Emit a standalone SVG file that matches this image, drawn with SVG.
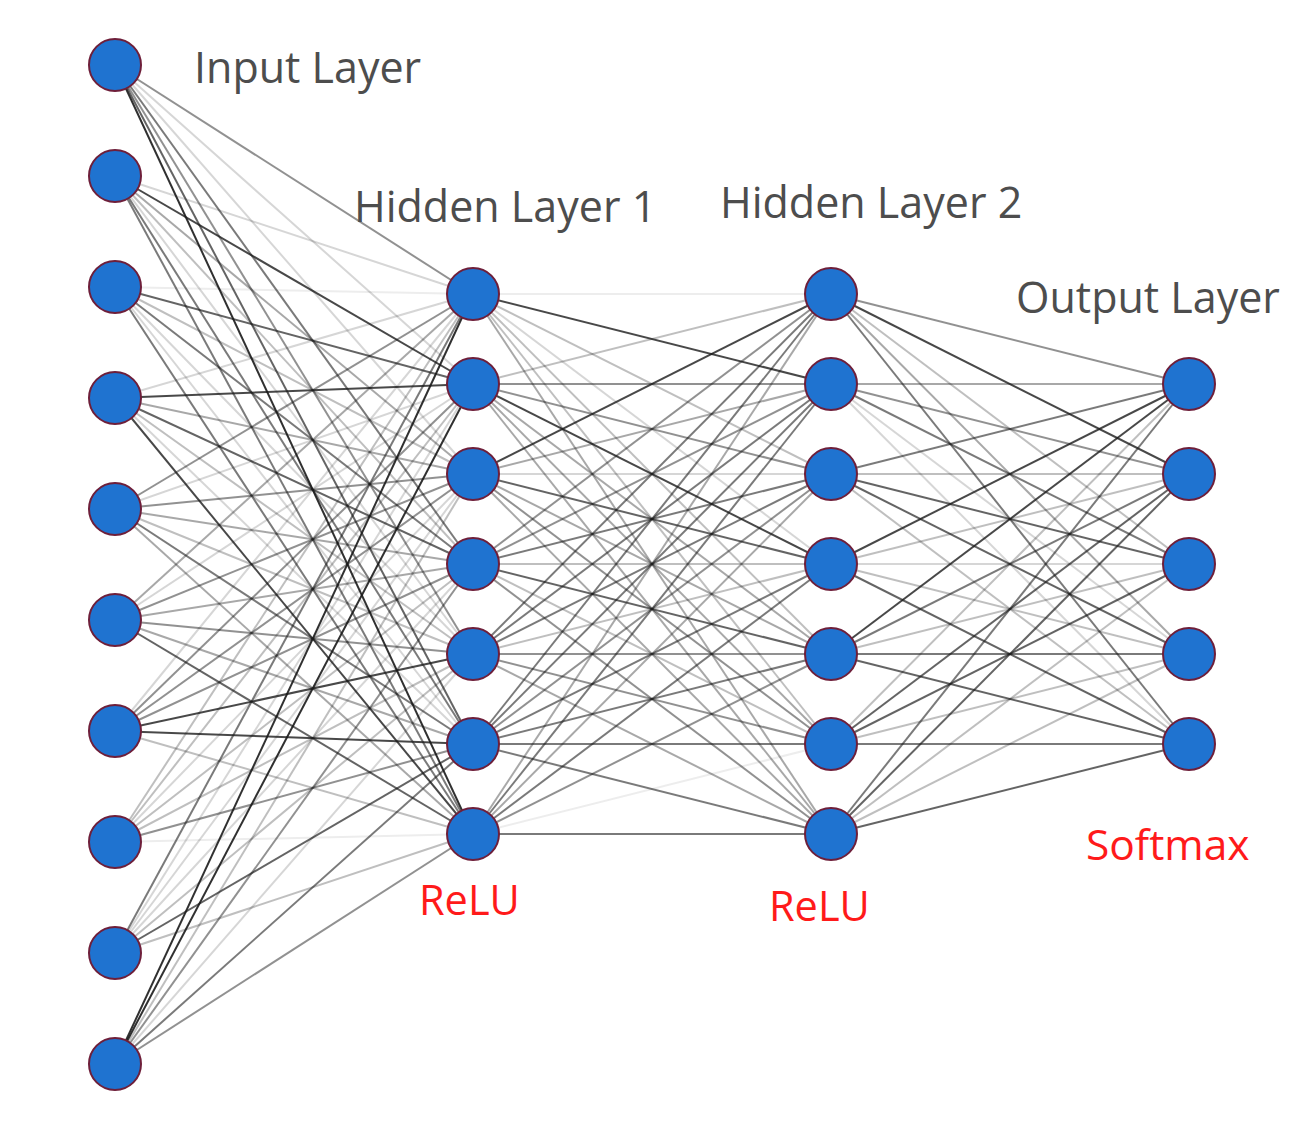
<svg xmlns="http://www.w3.org/2000/svg" width="1301" height="1131" viewBox="0 0 1301 1131">
<style>
.e line{stroke:#1a1a1a;stroke-width:2}
.o1{stroke-opacity:.08}.o2{stroke-opacity:.18}.o3{stroke-opacity:.28}.o4{stroke-opacity:.38}.o5{stroke-opacity:.48}.o6{stroke-opacity:.58}.o7{stroke-opacity:.68}.o8{stroke-opacity:.8}.o9{stroke-opacity:.9}
.n circle{fill:#1f73d0;stroke:#6e1f3a;stroke-width:2}
.t{font-family:"Open Sans","Liberation Sans",sans-serif;font-size:43px;fill:#4d4d4d}
.r{font-family:"Open Sans","Liberation Sans",sans-serif;font-size:41.5px;fill:#ff1a1a}
</style>
<rect width="1301" height="1131" fill="#fff"/>
<g id="connectors" class="e">
<line x1="115" y1="65" x2="473" y2="294" class="o5"/><line x1="115" y1="65" x2="473" y2="384" class="o2"/><line x1="115" y1="65" x2="473" y2="474" class="o2"/><line x1="115" y1="65" x2="473" y2="564" class="o6"/><line x1="115" y1="65" x2="473" y2="654" class="o5"/><line x1="115" y1="65" x2="473" y2="744" class="o7"/><line x1="115" y1="65" x2="473" y2="834" class="o9"/>
<line x1="115" y1="176" x2="473" y2="294" class="o2"/><line x1="115" y1="176" x2="473" y2="384" class="o8"/><line x1="115" y1="176" x2="473" y2="474" class="o4"/><line x1="115" y1="176" x2="473" y2="564" class="o3"/><line x1="115" y1="176" x2="473" y2="654" class="o2"/><line x1="115" y1="176" x2="473" y2="744" class="o6"/><line x1="115" y1="176" x2="473" y2="834" class="o6"/>
<line x1="115" y1="287" x2="473" y2="294" class="o1"/><line x1="115" y1="287" x2="473" y2="384" class="o7"/><line x1="115" y1="287" x2="473" y2="474" class="o3"/><line x1="115" y1="287" x2="473" y2="564" class="o6"/><line x1="115" y1="287" x2="473" y2="654" class="o2"/><line x1="115" y1="287" x2="473" y2="744" class="o2"/><line x1="115" y1="287" x2="473" y2="834" class="o6"/>
<line x1="115" y1="398" x2="473" y2="294" class="o2"/><line x1="115" y1="398" x2="473" y2="384" class="o8"/><line x1="115" y1="398" x2="473" y2="474" class="o4"/><line x1="115" y1="398" x2="473" y2="564" class="o7"/><line x1="115" y1="398" x2="473" y2="654" class="o3"/><line x1="115" y1="398" x2="473" y2="744" class="o2"/><line x1="115" y1="398" x2="473" y2="834" class="o8"/>
<line x1="115" y1="509" x2="473" y2="294" class="o5"/><line x1="115" y1="509" x2="473" y2="384" class="o2"/><line x1="115" y1="509" x2="473" y2="474" class="o5"/><line x1="115" y1="509" x2="473" y2="564" class="o4"/><line x1="115" y1="509" x2="473" y2="654" class="o3"/><line x1="115" y1="509" x2="473" y2="744" class="o6"/><line x1="115" y1="509" x2="473" y2="834" class="o4"/>
<line x1="115" y1="620" x2="473" y2="294" class="o4"/><line x1="115" y1="620" x2="473" y2="384" class="o2"/><line x1="115" y1="620" x2="473" y2="474" class="o5"/><line x1="115" y1="620" x2="473" y2="564" class="o4"/><line x1="115" y1="620" x2="473" y2="654" class="o5"/><line x1="115" y1="620" x2="473" y2="744" class="o4"/><line x1="115" y1="620" x2="473" y2="834" class="o7"/>
<line x1="115" y1="731" x2="473" y2="294" class="o2"/><line x1="115" y1="731" x2="473" y2="384" class="o5"/><line x1="115" y1="731" x2="473" y2="474" class="o5"/><line x1="115" y1="731" x2="473" y2="564" class="o5"/><line x1="115" y1="731" x2="473" y2="654" class="o8"/><line x1="115" y1="731" x2="473" y2="744" class="o8"/><line x1="115" y1="731" x2="473" y2="834" class="o3"/>
<line x1="115" y1="842" x2="473" y2="294" class="o3"/><line x1="115" y1="842" x2="473" y2="384" class="o3"/><line x1="115" y1="842" x2="473" y2="474" class="o2"/><line x1="115" y1="842" x2="473" y2="564" class="o3"/><line x1="115" y1="842" x2="473" y2="654" class="o3"/><line x1="115" y1="842" x2="473" y2="744" class="o5"/><line x1="115" y1="842" x2="473" y2="834" class="o1"/>
<line x1="115" y1="953" x2="473" y2="294" class="o6"/><line x1="115" y1="953" x2="473" y2="384" class="o2"/><line x1="115" y1="953" x2="473" y2="474" class="o2"/><line x1="115" y1="953" x2="473" y2="564" class="o2"/><line x1="115" y1="953" x2="473" y2="654" class="o3"/><line x1="115" y1="953" x2="473" y2="744" class="o7"/><line x1="115" y1="953" x2="473" y2="834" class="o3"/>
<line x1="115" y1="1064" x2="473" y2="294" class="o9"/><line x1="115" y1="1064" x2="473" y2="384" class="o9"/><line x1="115" y1="1064" x2="473" y2="474" class="o3"/><line x1="115" y1="1064" x2="473" y2="564" class="o5"/><line x1="115" y1="1064" x2="473" y2="654" class="o2"/><line x1="115" y1="1064" x2="473" y2="744" class="o6"/><line x1="115" y1="1064" x2="473" y2="834" class="o5"/>
<line x1="473" y1="294" x2="831" y2="294" class="o1"/><line x1="473" y1="294" x2="831" y2="384" class="o8"/><line x1="473" y1="294" x2="831" y2="474" class="o3"/><line x1="473" y1="294" x2="831" y2="564" class="o2"/><line x1="473" y1="294" x2="831" y2="654" class="o3"/><line x1="473" y1="294" x2="831" y2="744" class="o3"/><line x1="473" y1="294" x2="831" y2="834" class="o4"/>
<line x1="473" y1="384" x2="831" y2="294" class="o3"/><line x1="473" y1="384" x2="831" y2="384" class="o5"/><line x1="473" y1="384" x2="831" y2="474" class="o5"/><line x1="473" y1="384" x2="831" y2="564" class="o8"/><line x1="473" y1="384" x2="831" y2="654" class="o4"/><line x1="473" y1="384" x2="831" y2="744" class="o4"/><line x1="473" y1="384" x2="831" y2="834" class="o4"/>
<line x1="473" y1="474" x2="831" y2="294" class="o8"/><line x1="473" y1="474" x2="831" y2="384" class="o4"/><line x1="473" y1="474" x2="831" y2="474" class="o2"/><line x1="473" y1="474" x2="831" y2="564" class="o7"/><line x1="473" y1="474" x2="831" y2="654" class="o4"/><line x1="473" y1="474" x2="831" y2="744" class="o5"/><line x1="473" y1="474" x2="831" y2="834" class="o4"/>
<line x1="473" y1="564" x2="831" y2="294" class="o5"/><line x1="473" y1="564" x2="831" y2="384" class="o5"/><line x1="473" y1="564" x2="831" y2="474" class="o6"/><line x1="473" y1="564" x2="831" y2="564" class="o3"/><line x1="473" y1="564" x2="831" y2="654" class="o7"/><line x1="473" y1="564" x2="831" y2="744" class="o3"/><line x1="473" y1="564" x2="831" y2="834" class="o5"/>
<line x1="473" y1="654" x2="831" y2="294" class="o6"/><line x1="473" y1="654" x2="831" y2="384" class="o6"/><line x1="473" y1="654" x2="831" y2="474" class="o6"/><line x1="473" y1="654" x2="831" y2="564" class="o3"/><line x1="473" y1="654" x2="831" y2="654" class="o5"/><line x1="473" y1="654" x2="831" y2="744" class="o5"/><line x1="473" y1="654" x2="831" y2="834" class="o4"/>
<line x1="473" y1="744" x2="831" y2="294" class="o6"/><line x1="473" y1="744" x2="831" y2="384" class="o6"/><line x1="473" y1="744" x2="831" y2="474" class="o5"/><line x1="473" y1="744" x2="831" y2="564" class="o6"/><line x1="473" y1="744" x2="831" y2="654" class="o6"/><line x1="473" y1="744" x2="831" y2="744" class="o6"/><line x1="473" y1="744" x2="831" y2="834" class="o6"/>
<line x1="473" y1="834" x2="831" y2="294" class="o4"/><line x1="473" y1="834" x2="831" y2="384" class="o6"/><line x1="473" y1="834" x2="831" y2="474" class="o4"/><line x1="473" y1="834" x2="831" y2="564" class="o6"/><line x1="473" y1="834" x2="831" y2="654" class="o5"/><line x1="473" y1="834" x2="831" y2="744" class="o1"/><line x1="473" y1="834" x2="831" y2="834" class="o6"/>
<line x1="831" y1="294" x2="1189" y2="384" class="o5"/><line x1="831" y1="294" x2="1189" y2="474" class="o8"/><line x1="831" y1="294" x2="1189" y2="564" class="o3"/><line x1="831" y1="294" x2="1189" y2="654" class="o4"/><line x1="831" y1="294" x2="1189" y2="744" class="o6"/>
<line x1="831" y1="384" x2="1189" y2="384" class="o4"/><line x1="831" y1="384" x2="1189" y2="474" class="o5"/><line x1="831" y1="384" x2="1189" y2="564" class="o6"/><line x1="831" y1="384" x2="1189" y2="654" class="o2"/><line x1="831" y1="384" x2="1189" y2="744" class="o2"/>
<line x1="831" y1="474" x2="1189" y2="384" class="o6"/><line x1="831" y1="474" x2="1189" y2="474" class="o3"/><line x1="831" y1="474" x2="1189" y2="564" class="o7"/><line x1="831" y1="474" x2="1189" y2="654" class="o7"/><line x1="831" y1="474" x2="1189" y2="744" class="o3"/>
<line x1="831" y1="564" x2="1189" y2="384" class="o8"/><line x1="831" y1="564" x2="1189" y2="474" class="o3"/><line x1="831" y1="564" x2="1189" y2="564" class="o2"/><line x1="831" y1="564" x2="1189" y2="654" class="o3"/><line x1="831" y1="564" x2="1189" y2="744" class="o7"/>
<line x1="831" y1="654" x2="1189" y2="384" class="o8"/><line x1="831" y1="654" x2="1189" y2="474" class="o6"/><line x1="831" y1="654" x2="1189" y2="564" class="o3"/><line x1="831" y1="654" x2="1189" y2="654" class="o6"/><line x1="831" y1="654" x2="1189" y2="744" class="o7"/>
<line x1="831" y1="744" x2="1189" y2="384" class="o3"/><line x1="831" y1="744" x2="1189" y2="474" class="o7"/><line x1="831" y1="744" x2="1189" y2="564" class="o7"/><line x1="831" y1="744" x2="1189" y2="654" class="o3"/><line x1="831" y1="744" x2="1189" y2="744" class="o6"/>
<line x1="831" y1="834" x2="1189" y2="384" class="o6"/><line x1="831" y1="834" x2="1189" y2="474" class="o7"/><line x1="831" y1="834" x2="1189" y2="564" class="o3"/><line x1="831" y1="834" x2="1189" y2="654" class="o3"/><line x1="831" y1="834" x2="1189" y2="744" class="o7"/>
</g>
<g class="n">
<g id="in0"><circle cx="115" cy="65" r="26"/></g>
<g id="in1"><circle cx="115" cy="176" r="26"/></g>
<g id="in2"><circle cx="115" cy="287" r="26"/></g>
<g id="in3"><circle cx="115" cy="398" r="26"/></g>
<g id="in4"><circle cx="115" cy="509" r="26"/></g>
<g id="in5"><circle cx="115" cy="620" r="26"/></g>
<g id="in6"><circle cx="115" cy="731" r="26"/></g>
<g id="in7"><circle cx="115" cy="842" r="26"/></g>
<g id="in8"><circle cx="115" cy="953" r="26"/></g>
<g id="in9"><circle cx="115" cy="1064" r="26"/></g>
<g id="h1_0"><circle cx="473" cy="294" r="26"/></g>
<g id="h1_1"><circle cx="473" cy="384" r="26"/></g>
<g id="h1_2"><circle cx="473" cy="474" r="26"/></g>
<g id="h1_3"><circle cx="473" cy="564" r="26"/></g>
<g id="h1_4"><circle cx="473" cy="654" r="26"/></g>
<g id="h1_5"><circle cx="473" cy="744" r="26"/></g>
<g id="h1_6"><circle cx="473" cy="834" r="26"/></g>
<g id="h2_0"><circle cx="831" cy="294" r="26"/></g>
<g id="h2_1"><circle cx="831" cy="384" r="26"/></g>
<g id="h2_2"><circle cx="831" cy="474" r="26"/></g>
<g id="h2_3"><circle cx="831" cy="564" r="26"/></g>
<g id="h2_4"><circle cx="831" cy="654" r="26"/></g>
<g id="h2_5"><circle cx="831" cy="744" r="26"/></g>
<g id="h2_6"><circle cx="831" cy="834" r="26"/></g>
<g id="out0"><circle cx="1189" cy="384" r="26"/></g>
<g id="out1"><circle cx="1189" cy="474" r="26"/></g>
<g id="out2"><circle cx="1189" cy="564" r="26"/></g>
<g id="out3"><circle cx="1189" cy="654" r="26"/></g>
<g id="out4"><circle cx="1189" cy="744" r="26"/></g>
</g>
<g id="labels">
<text class="t" x="194" y="83">Input Layer</text>
<text class="t" x="354" y="222">Hidden Layer 1</text>
<text class="t" x="720" y="218">Hidden Layer 2</text>
<text class="t" x="1016" y="313">Output Layer</text>
<text class="r" x="419" y="915">ReLU</text>
<text class="r" x="769" y="921">ReLU</text>
<text class="r" x="1086" y="860" style="font-size:42.5px">Softmax</text>
</g>
</svg>
